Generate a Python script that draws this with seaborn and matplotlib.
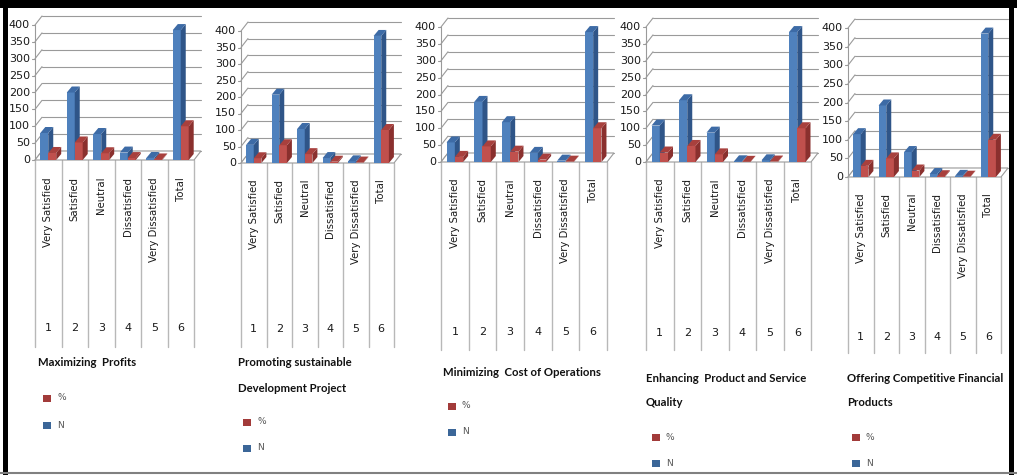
import matplotlib
matplotlib.use("Agg")
import matplotlib.pyplot as plt
from matplotlib.patches import Polygon, Rectangle
from matplotlib.lines import Line2D
import pandas as pd
import seaborn as sns

# ---------------------------------------------------------------- data
categories = ["Very Satisfied", "Satisfied", "Neutral", "Dissatisfied",
              "Very Dissatisfied", "Total"]
category_codes = ["1", "2", "3", "4", "5", "6"]
series = ["N", "%"]
legend_order = ["%", "N"]
y_ticks = [0, 50, 100, 150, 200, 250, 300, 350, 400]

titles = [
    ["Maximizing  Profits"],
    ["Promoting sustainable", "Development Project"],
    ["Minimizing  Cost of Operations"],
    ["Enhancing  Product and Service", "Quality"],
    ["Offering Competitive Financial", "Products"],
]

profits_n = [80, 200, 77, 22, 6, 385]
profits_pct = [20.8, 51.9, 20.0, 5.7, 1.6, 100]

sustainable_n = [55, 207, 103, 15, 5, 385]
sustainable_pct = [14.3, 53.8, 26.8, 3.9, 1.3, 100]

cost_n = [58, 178, 118, 27, 4, 385]
cost_pct = [15.1, 46.2, 30.6, 7.0, 1.0, 100]

quality_n = [108, 183, 87, 2, 5, 385]
quality_pct = [28.1, 47.5, 22.6, 0.5, 1.3, 100]

financial_n = [115, 192, 67, 8, 3, 385]
financial_pct = [29.9, 49.9, 17.4, 2.1, 0.8, 100]

panel_n = [profits_n, sustainable_n, cost_n, quality_n, financial_n]
panel_pct = [profits_pct, sustainable_pct, cost_pct, quality_pct, financial_pct]

# ---------------------------------------------------------------- style
W, H = 1017, 475
BLUE, BLUE_SIDE, BLUE_TOP = "#4F81BD", "#2F5588", "#3D6BA6"
RED, RED_SIDE, RED_TOP = "#C0504D", "#8A302E", "#A8403D"
LEG_BLUE, LEG_RED = "#3B6698", "#A23B3A"
GRID = "#9A9A9A"
TABLE = "#B8B8B8"

# pixel geometry of each panel (figure pixels, origin top-left)
layout = [
    dict(left=35, right=194, y0=160, y400=25, tbot=347, ltop=177, num=328,
         tx=38, ty=[363], lx=43, ly=[398, 425]),
    dict(left=241, right=394, y0=163, y400=31, tbot=347, ltop=179, num=329,
         tx=238, ty=[363, 388], lx=243, ly=[422, 448]),
    dict(left=441, right=607, y0=162, y400=27, tbot=350, ltop=178, num=332,
         tx=443, ty=[372], lx=448, ly=[406, 432]),
    dict(left=646, right=811, y0=162, y400=27, tbot=350, ltop=178, num=333,
         tx=646, ty=[378, 402], lx=652, ly=[437, 463]),
    dict(left=848, right=1001, y0=177, y400=28, tbot=353, ltop=193, num=337,
         tx=847, ty=[378, 402], lx=852, ly=[437, 463]),
]

FLOOR_DX, FLOOR_DY = 7, 9      # depth of the back wall (px)
BAR_DX, BAR_DY = 5, 6          # depth of each column (px)

sns.set_style("white")
plt.rcParams["font.family"] = ["Liberation Sans Narrow", "DejaVu Sans"]
NARROW = ["Liberation Sans Narrow", "DejaVu Sans"]
LABEL_FONT = ["DejaVu Sans"]
TITLE_FONT = ["Lato", "DejaVu Sans"]

fig = plt.figure(figsize=(W / 100, H / 100), dpi=100)
fig.patch.set_facecolor("white")


def fx(px):
    return px / W


def fy(py):
    return 1 - py / H


for n_vals, pct_vals, title, g in zip(panel_n, panel_pct, titles, layout):
    aw = g["right"] - g["left"]
    ah = g["y0"] - g["y400"]
    ax = fig.add_axes([fx(g["left"]), fy(g["y0"]), aw / W, ah / H])
    sx = 6 / aw          # data units per pixel (x)
    sy = 400 / ah        # data units per pixel (y)

    df = pd.DataFrame({
        "category": categories * 2,
        "series": ["N"] * 6 + ["%"] * 6,
        "value": list(n_vals) + list(pct_vals),
    })
    sns.barplot(data=df, x="category", y="value", hue="series",
                order=categories, hue_order=series,
                palette={"N": BLUE, "%": RED}, saturation=1,
                width=0.6, legend=False, ax=ax, linewidth=0)
    ax.set_xlim(-0.5, 5.5)
    ax.set_ylim(0, 400)
    ax.axis("off")

    fdx, fdy = FLOOR_DX * sx, FLOOR_DY * sy
    bdx, bdy = BAR_DX * sx, BAR_DY * sy

    # back wall gridlines, diagonals and the front value axis
    for v in y_ticks:
        ax.plot([-0.5, -0.5 + fdx], [v, v + fdy], color=GRID, lw=0.8,
                clip_on=False, zorder=1)
        ax.plot([-0.5 + fdx, 5.5 + fdx], [v + fdy, v + fdy], color=GRID,
                lw=0.8, clip_on=False, zorder=1)
        ax.plot([-0.5 - 3 * sx, -0.5], [v, v], color=GRID, lw=0.8,
                clip_on=False, zorder=1)
        ax.text(-0.5 - 5 * sx, v, str(v), ha="right", va="center",
                fontsize=8, family=NARROW, color="#1a1a1a")
    ax.plot([-0.5, -0.5], [0, 400], color=GRID, lw=0.8, clip_on=False,
            zorder=1)
    # floor
    floor = Polygon([(-0.5, 0), (5.5, 0), (5.5 + fdx, fdy), (-0.5 + fdx, fdy)],
                    closed=True, facecolor="white", edgecolor=GRID, lw=0.8,
                    clip_on=False, zorder=1.5)
    ax.add_patch(floor)

    # give each column a side and a top face
    shades = [(BLUE_SIDE, BLUE_TOP), (RED_SIDE, RED_TOP)]
    for k, cont in enumerate(ax.containers):
        side_c, top_c = shades[k]
        for rect in cont:
            x0, w, h = rect.get_x(), rect.get_width(), rect.get_height()
            z = 3 + k
            rect.set_zorder(z)
            rect.set_clip_on(False)
            ax.add_patch(Polygon([(x0 + w, 0), (x0 + w, h),
                                  (x0 + w + bdx, h + bdy),
                                  (x0 + w + bdx, bdy)],
                                 closed=True, facecolor=side_c, lw=0,
                                 clip_on=False, zorder=z))
            ax.add_patch(Polygon([(x0, h), (x0 + w, h),
                                  (x0 + w + bdx, h + bdy),
                                  (x0 + bdx, h + bdy)],
                                 closed=True, facecolor=top_c, lw=0,
                                 clip_on=False, zorder=z))

    # category table below the floor
    tb = -(g["tbot"] - g["y0"]) * sy
    for b in range(7):
        ax.plot([b - 0.5, b - 0.5], [0, tb], color=TABLE, lw=1.0,
                clip_on=False, zorder=1)
    lt = -(g["ltop"] - g["y0"]) * sy
    nm = -(g["num"] - g["y0"]) * sy
    for i, (cat, code) in enumerate(zip(categories, category_codes)):
        ax.text(i, lt, cat, rotation=90, ha="center", va="top",
                fontsize=7.3, family=LABEL_FONT, color="#1a1a1a")
        ax.text(i, nm, code, ha="center", va="center", fontsize=8,
                family=NARROW, color="#1a1a1a")

    # panel title
    for line, ty in zip(title, g["ty"]):
        fig.text(fx(g["tx"]), fy(ty), line, ha="left", va="center",
                 fontsize=8.2, fontweight="bold", family=TITLE_FONT,
                 color="#111111")

    # legend
    for name, ly in zip(legend_order, g["ly"]):
        col = LEG_RED if name == "%" else LEG_BLUE
        fig.add_artist(Rectangle((fx(g["lx"]), fy(ly + 3.5)), 8 / W, 7 / H,
                                 transform=fig.transFigure, facecolor=col,
                                 edgecolor="none"))
        fig.text(fx(g["lx"] + 14), fy(ly), name, ha="left", va="center",
                 fontsize=6.5, family=NARROW, color="#555555")

# frame around the figure
fig.add_artist(Rectangle((0, fy(8)), 1, 8 / H, transform=fig.transFigure,
                         facecolor="black", edgecolor="none"))
fig.add_artist(Rectangle((fx(3), 0), 5 / W, 1, transform=fig.transFigure,
                         facecolor="black", edgecolor="none"))
fig.add_artist(Rectangle((fx(1009), 0), 5 / W, 1, transform=fig.transFigure,
                         facecolor="black", edgecolor="none"))
fig.add_artist(Line2D([0, 1], [fy(473), fy(473)], transform=fig.transFigure,
                      color="#808080", lw=1.5))

fig.savefig("out.png", dpi=100, facecolor="white")
